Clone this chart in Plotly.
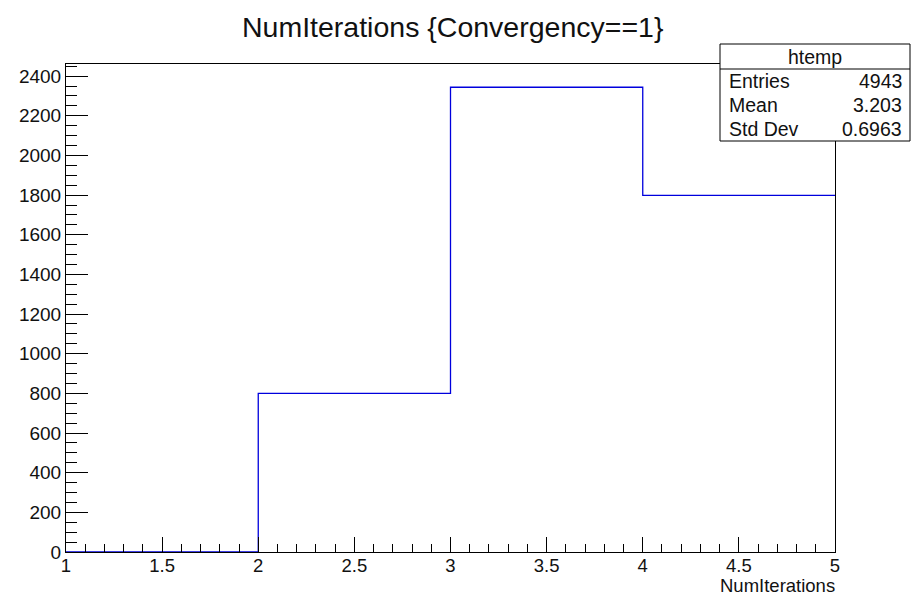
import plotly.graph_objects as go

# Data
bin_edges = [1, 2, 3, 4, 5]
counts = [0, 800, 2344, 1799]
stats_labels = ["Entries", "Mean", "Std Dev"]
stats_values = ["4943", "3.203", "0.6963"]
hist_name = "htemp"
title_text = "NumIterations {Convergency==1}"
x_title = "NumIterations"

W, H = 912, 597
L, R, T, B = 66, 835, 64, 552
FONT = "Liberation Sans, Arial, Helvetica, sans-serif"
TICK_FS = 19
STAT_FS = 19.5

def px(x):
    return (x - L) / (R - L)

def py(y):
    return (B - y) / (B - T)

step_y = counts + [counts[-1]]

fig = go.Figure()
fig.add_trace(go.Scatter(
    x=bin_edges, y=step_y, mode="lines", line_shape="hv",
    line=dict(color="#0000dd", width=1.3), showlegend=False, hoverinfo="skip"))

ymax = max(counts) * 1.05

fig.update_layout(
    width=W, height=H,
    margin=dict(l=L, r=W - R, t=T, b=H - B),
    paper_bgcolor="white", plot_bgcolor="white",
    font=dict(family=FONT, size=TICK_FS, color="#111111"),
    showlegend=False,
    xaxis=dict(range=[1, 5], showgrid=False, zeroline=False,
               showline=True, linecolor="black", linewidth=1, mirror=True,
               ticks="inside", ticklen=15, tickcolor="black", tickwidth=1,
               dtick=0.5, tick0=1, layer="above traces", ticklabelstandoff=-3,
               minor=dict(ticks="inside", ticklen=8, dtick=0.1, tickcolor="black", showgrid=False),
               tickfont=dict(size=18.5)),
    yaxis=dict(range=[0, ymax], showgrid=False, zeroline=False,
               showline=True, linecolor="black", linewidth=1, mirror=True,
               ticks="inside", ticklen=22, tickcolor="black", tickwidth=1,
               dtick=200, tick0=0, layer="above traces",
               minor=dict(ticks="inside", ticklen=11, dtick=50, tickcolor="black", showgrid=False),
               tickfont=dict(size=TICK_FS)),
)

# Title
fig.add_annotation(text=title_text, xref="paper", yref="paper",
                   x=px(452), y=py(27), xanchor="center", yanchor="middle",
                   showarrow=False, font=dict(size=28.5, family=FONT))
# X title
fig.add_annotation(text=x_title, xref="paper", yref="paper",
                   x=px(836), y=py(597), xanchor="right", yanchor="bottom",
                   showarrow=False, font=dict(size=18.5, family=FONT), borderpad=0)

# Stats box
bx0, bx1, by0, by1 = 720, 910, 44, 141
fig.add_shape(type="rect", xref="paper", yref="paper",
              x0=px(bx0), x1=px(bx1), y0=py(by1), y1=py(by0),
              line=dict(color="black", width=1), fillcolor="white", layer="above")
fig.add_shape(type="line", xref="paper", yref="paper",
              x0=px(bx0), x1=px(bx1), y0=py(69), y1=py(69),
              line=dict(color="black", width=1), layer="above")
fig.add_annotation(text=hist_name, xref="paper", yref="paper",
                   x=px((bx0 + bx1) / 2), y=py(56.5), xanchor="center", yanchor="middle",
                   showarrow=False, font=dict(size=STAT_FS, family=FONT))
row_y = [81, 105, 129]
for lab, val, yy in zip(stats_labels, stats_values, row_y):
    fig.add_annotation(text=lab, xref="paper", yref="paper",
                       x=px(727), y=py(yy), xanchor="left", yanchor="middle",
                       showarrow=False, font=dict(size=STAT_FS, family=FONT))
    fig.add_annotation(text=val, xref="paper", yref="paper",
                       x=px(904), y=py(yy), xanchor="right", yanchor="middle",
                       showarrow=False, font=dict(size=STAT_FS, family=FONT))

fig.write_html("out.html")
